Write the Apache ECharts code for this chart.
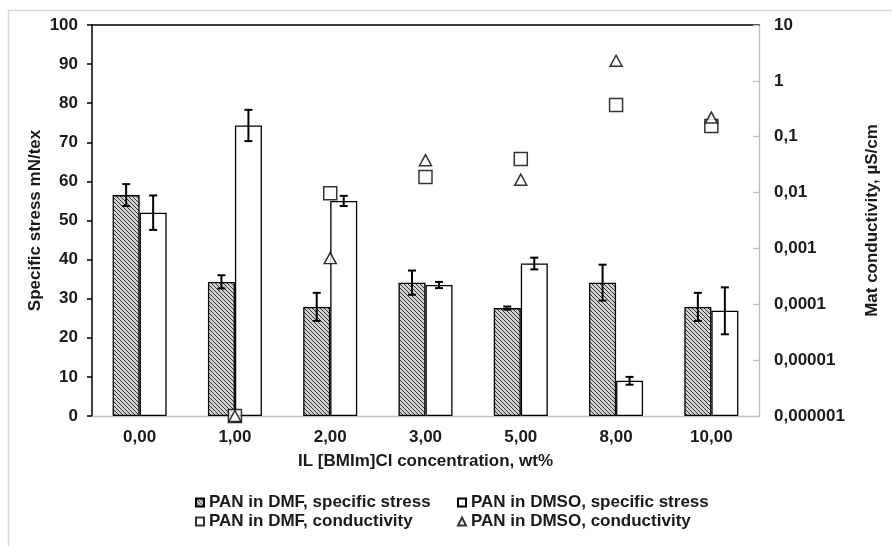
<!DOCTYPE html>
<html>
<head>
<meta charset="utf-8">
<script src="https://cdn.jsdelivr.net/npm/echarts@6/dist/echarts.min.js"></script>
<style>
html,body{margin:0;padding:0;background:#fff;}
#chart{width:892px;height:546px;}
</style>
</head>
<body>
<div id="chart"></div>
<script>
// ---- data ----
const categories = ['0,00', '1,00', '2,00', '3,00', '5,00', '8,00', '10,00'];
const stressDMF = [56.5, 34.3, 27.9, 34.1, 27.6, 34.1, 27.9];
const stressDMFErr = [2.8, 1.7, 3.6, 3.1, 0.4, 4.6, 3.6];
const stressDMSO = [52.0, 74.3, 55.0, 33.5, 39.0, 9.0, 26.9];
const stressDMSOErr = [4.4, 4.0, 1.3, 0.8, 1.5, 1.0, 6.0];
const condDMF = [null, 0.000001, 0.0097, 0.019, 0.040, 0.37, 0.155];
const condDMSO = [null, 0.000001, 0.00067, 0.038, 0.017, 2.29, 0.22];
const rightTickLabels = ['0,000001', '0,00001', '0,0001', '0,001', '0,01', '0,1', '1', '10'];
const names = ['PAN in DMF, specific stress', 'PAN in DMSO, specific stress', 'PAN in DMF, conductivity', 'PAN in DMSO, conductivity'];

// ---- styles ----
const FONT = 'Liberation Sans, Arial, sans-serif';
const FS = 17;
const TXT = '#1a1a1a';
const BAR_W = 27;

const tile = document.createElement('canvas');
tile.width = 4; tile.height = 4;
const tctx = tile.getContext('2d');
tctx.fillStyle = '#d2d2d2'; tctx.fillRect(0, 0, 4, 4);
tctx.fillStyle = '#333333';
for (let i = 0; i < 4; i++) tctx.fillRect(i, i, 1, 1);
const hatch = { image: tile, repeat: 'repeat' };

function errSeries(vals, errs, offset, name) {
  return {
    type: 'custom',
    name: name + ' err',
    xAxisIndex: 0, yAxisIndex: 0,
    z: 5,
    silent: true,
    data: vals.map((v, i) => [i, v, errs[i]]),
    encode: { x: 0, y: 1 },
    renderItem: function (params, api) {
      const i = api.value(0), v = api.value(1), e = api.value(2);
      const top = api.coord([i, v + e]);
      const bot = api.coord([i, v - e]);
      const x = top[0] + offset;
      const st = { stroke: '#000', lineWidth: 2 };
      return {
        type: 'group',
        children: [
          { type: 'line', shape: { x1: x, y1: top[1], x2: x, y2: bot[1] }, style: st },
          { type: 'line', shape: { x1: x - 4, y1: top[1], x2: x + 4, y2: top[1] }, style: st },
          { type: 'line', shape: { x1: x - 4, y1: bot[1], x2: x + 4, y2: bot[1] }, style: st }
        ]
      };
    }
  };
}

const textStyle = { fontFamily: FONT, fontSize: FS, fontWeight: 'bold', color: TXT };

function legendAt(name, left, top, icon) {
  return {
    data: [{ name: name, icon: icon }],
    left: left, top: top, padding: 0,
    itemWidth: 8, itemHeight: 8,
    selectedMode: false,
    textStyle: textStyle
  };
}

const chart = echarts.init(document.getElementById('chart'), null, { renderer: 'canvas' });
chart.setOption({
  backgroundColor: '#fff',
  animation: false,
  textStyle: { fontFamily: FONT },
  graphic: [{
    type: 'rect', left: 6, top: 8, shape: { width: 1000, height: 700 },
    style: { fill: 'none', stroke: '#d9d9d9', lineWidth: 1.5 }, silent: true, z: -10
  }],
  grid: { left: 92, right: 133, top: 25, bottom: 130, containLabel: false },
  legend: [
    legendAt(names[0], 195, 494, 'rect'),
    legendAt(names[1], 457, 494, 'rect'),
    legendAt(names[2], 195, 513, 'rect'),
    legendAt(names[3], 457, 513, 'triangle')
  ],
  xAxis: [{
    type: 'category', data: categories, position: 'bottom',
    axisLine: { lineStyle: { color: '#bfbfbf', width: 1.3 } },
    axisTick: { show: false },
    axisLabel: Object.assign({ margin: 13 }, textStyle),
    name: 'IL [BMIm]Cl concentration, wt%', nameLocation: 'middle', nameGap: 37,
    nameMoveOverlap: false,
    nameTextStyle: textStyle
  }, {
    type: 'category', data: categories, position: 'top',
    axisLine: { lineStyle: { color: '#000', width: 1.5 } },
    axisTick: { show: false }, axisLabel: { show: false }
  }],
  yAxis: [{
    type: 'value', min: 0, max: 100, interval: 10, position: 'left',
    axisLine: { show: true, lineStyle: { color: '#000', width: 1.5 } },
    axisTick: { show: true, length: 5, lineStyle: { color: '#000', width: 1.5 } },
    axisLabel: Object.assign({ margin: 14 }, textStyle),
    splitLine: { show: false },
    name: 'Specific stress mN/tex', nameLocation: 'middle', nameGap: 48, nameRotate: 90,
    nameMoveOverlap: false,
    nameTextStyle: textStyle
  }, {
    type: 'log', logBase: 10, min: 0.000001, max: 10, splitNumber: 7, position: 'right',
    axisLine: { show: true, lineStyle: { color: '#bfbfbf', width: 1.3 } },
    axisTick: { show: true, inside: true, length: 6, lineStyle: { color: '#bfbfbf', width: 1.3 } },
    axisLabel: Object.assign({
      margin: 15,
      formatter: function (v) { return rightTickLabels[Math.round(Math.log10(v)) + 6]; }
    }, textStyle),
    splitLine: { show: false },
    name: 'Mat conductivity, µS/cm', nameLocation: 'middle', nameGap: 105, nameRotate: 90,
    nameMoveOverlap: false,
    nameTextStyle: textStyle
  }],
  series: [{
    type: 'bar', name: names[0], xAxisIndex: 0, yAxisIndex: 0,
    data: stressDMF, barWidth: BAR_W, barGap: '0%',
    itemStyle: { color: hatch, borderColor: '#000', borderWidth: 1.3 }
  }, {
    type: 'bar', name: names[1], xAxisIndex: 0, yAxisIndex: 0,
    data: stressDMSO, barWidth: BAR_W, barGap: '0%',
    itemStyle: { color: '#fff', borderColor: '#000', borderWidth: 1.3 }
  },
  errSeries(stressDMF, stressDMFErr, -BAR_W / 2, names[0]),
  errSeries(stressDMSO, stressDMSOErr, BAR_W / 2, names[1]),
  {
    type: 'scatter', name: names[2], xAxisIndex: 0, yAxisIndex: 1,
    data: condDMF.map((v, i) => v == null ? [i, '-'] : [i, v]),
    symbol: 'rect', symbolSize: 13, clip: false, z: 6,
    itemStyle: { color: '#fff', borderColor: '#000', borderWidth: 1.5 }
  }, {
    type: 'scatter', name: names[3], xAxisIndex: 0, yAxisIndex: 1,
    data: condDMSO.map((v, i) => v == null ? [i, '-'] : [i, v]),
    symbol: 'triangle', symbolSize: [12, 11], clip: false, z: 7,
    itemStyle: { color: '#fff', borderColor: '#000', borderWidth: 1.5 }
  }]
});
</script>
</body>
</html>
